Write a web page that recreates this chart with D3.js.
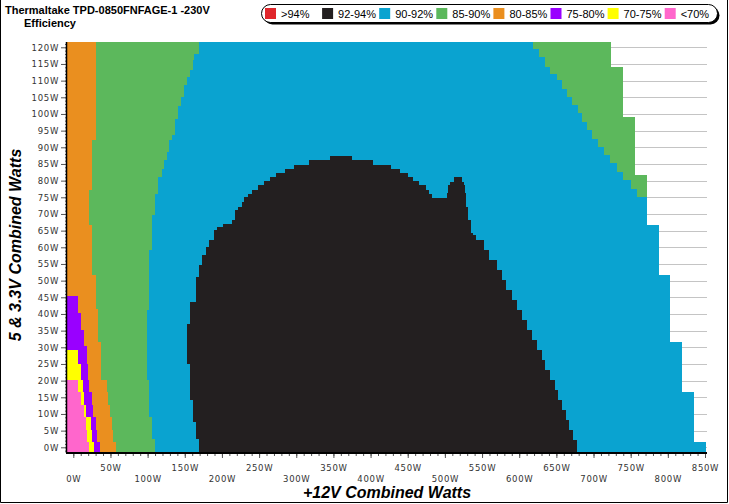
<!DOCTYPE html>
<html><head><meta charset="utf-8">
<script src="https://cdn.jsdelivr.net/npm/d3@7"></script>
<style>body{margin:0;background:#fff}svg{display:block}</style>
</head><body><svg id="c" width="729" height="504"></svg>
<script>
// ---- legend / classes ----
const classes = [">94%", "92-94%", "90-92%", "85-90%", "80-85%", "75-80%", "70-75%", "<70%"];
const classColors = ["#e0262b", "#231f20", "#0aa3d0", "#5cb85c", "#ea8f1f", "#9900ff", "#ffff00", "#ff66cc"];
const yTicks = d3.range(0, 121, 5);
const xTicks = d3.range(0, 851, 50);

// ---- region boundaries: [5&3.3V load from (W), +12V load (W)] step functions ----
const pinkYellow = [[-2, 21.1], [1.7, 18.9], [5.2, 17.1], [9.2, 14.4], [12.7, 9.9], [16.7, 6.8], [20.2, null]];
const yellowPurple = [[-2, 28.3], [1.7, 24.8], [5.2, 23.8], [9.2, 17.1], [12.7, 14.8], [16.7, 13.5], [20.2, 10.4], [25.2, 5.9], [29.2, null]];
const purpleOrange = [[-2, 35.9], [1.7, 32.3], [5.2, 30.5], [9.2, 26.9], [12.7, 24.8], [16.7, 21.5], [20.2, 19.8], [25.2, 18], [30.4, 14.4], [35.2, 10.4], [40.4, 5.9], [45.4, null]];
const orangeGreen = [[-2, 57.5], [1.7, 53.8], [5.2, 51.7], [9.2, 49.4], [12.7, 47.1], [16.7, 44.9], [20.2, 37.3], [31.7, 33.6], [41.7, 30.1], [51.7, 25.6], [66.7, 21.5], [77.2, 25.6], [92.2, 30.1]];
const greenBlueLeft = [[-2, 109.9], [2.7, 106.3], [9.2, 101.9], [20.2, 98.8], [41.2, 101.9], [59.2, 106.3], [69.7, 109.9], [76.2, 114.4], [81.2, 118.9], [83.7, 122], [86.2, 125.7], [88.7, 129.2], [92.2, 133.2], [93.7, 136.9], [98.7, 141.3], [102.4, 145], [105.2, 149], [108.7, 153.4], [111.2, 157], [113.4, 160.7], [116.2, 162.8], [118.2, 169.2]];
const blobLeft = [[-2, 169.2], [2.7, 165.1], [7.7, 161.5], [14.2, 157], [25.2, 153.4], [37.2, 157], [43.7, 165.1], [51.2, 169.2], [54.7, 173.6], [57.7, 178.2], [60.2, 183], [62.2, 189.3], [65.2, 193.8], [66.2, 201.9], [67.2, 214], [68.2, 217.6], [71.2, 222], [72.2, 226.6], [73.7, 230.2], [75.2, 235.5], [76.2, 240], [77.4, 248.1], [78.7, 256.6], [80, 264.7], [81.2, 272.8], [82.4, 284.9], [83.6, 297], [84.8, 317.2], [86.2, 345.4], [87.4, null]];
const blobRight = [[-2, 678.2], [0.2, 677.4], [2.2, 672.8], [5.2, 667.4], [8.2, 663], [11.2, 657.2], [14.2, 652.6], [17.2, 648.2], [20.2, 641.5], [23.2, 634.7], [26.2, 630.3], [29.2, 623.6], [32.2, 616.8], [35.2, 610.1], [38.2, 603.4], [41.2, 596.6], [44.2, 589.9], [47.2, 582.2], [50.2, 576.5], [53.2, 569.7], [56.2, 560], [59.2, 552], [62.2, 542], [63.7, 538.3], [64.5, 535.2], [68.2, 531.5], [72.2, 529], [74.9, 483.1], [76.2, 479.1], [77.4, 474.6], [78.7, 465.6], [80, 457.5], [81.2, 450.8], [82.4, 439.6], [83.6, 427.1], [84.8, 402.9], [86.2, 374.6], [87.4, null]];
const blueGreenRight = [[-2, null], [75.2, 758], [77.7, 750], [80.2, 740], [82.7, 731], [85.3, 722], [87.7, 714], [90.2, 706.5], [92.7, 698], [95.2, 691], [97.7, 685], [100.3, 679.6], [102.7, 671], [105.2, 664], [107.7, 657], [110.2, 650.5], [112.2, 642], [114.2, 635], [117.2, 626], [119.5, 618.2]];
const maxLoad = [[-2, 851.4], [1.7, 834.9], [16.7, 818.7], [31.7, 803], [51.7, 788], [66.7, 771.6], [81.7, 755.5], [99.2, 739], [114.2, 723]];
// isolated 92-94% peak: [from W, to W, +12V from, +12V to]
const peakRows = [[74.9, 76.2, 502.5, 528], [76.2, 78.7, 504.6, 527.1], [78.7, 79.7, 507, 525.8], [79.7, 81.2, 512.3, 522.7]];

const regionClasses = ["<70%", "70-75%", "75-80%", "80-85%", "85-90%", "90-92%", "92-94%", "90-92%", "85-90%"];

const svg = d3.select("#c");
const color = d3.scaleOrdinal().domain(classes).range(classColors);
const x = d3.scaleLinear().domain([0, 850]).range([73.3, 705]);
const y = d3.scaleLinear().domain([0, 120]).range([447.3, 47.3]);
const plotL = 67, plotR = 707, plotT = 42, plotB = 452;

// outer frame
svg.append("path").attr("d", "M0.5,0 V502.5 H727.5 V0").attr("fill", "none").attr("stroke", "#000").attr("stroke-width", 1);

// gridlines
svg.append("g").selectAll("line").data(yTicks).join("line")
  .attr("x1", plotL).attr("x2", plotR).attr("y1", d => Math.round(y(d)) + 0.5).attr("y2", d => Math.round(y(d)) + 0.5)
  .attr("stroke", "#c4c4c4").attr("stroke-width", 1);

// build bands
const boundaries = [pinkYellow, yellowPurple, purpleOrange, orangeGreen, greenBlueLeft, blobLeft, blobRight, blueGreenRight, maxLoad];
const yBot = y.invert(plotB), yTop = y.invert(plotT), xLeft = x.invert(plotL);
const cuts = Array.from(new Set([yBot, yTop, ...boundaries.flatMap(b => b.map(d => d[0]))]))
  .filter(v => v >= yBot && v <= yTop).sort((a, b) => a - b);
function stepAt(b, yv) { let v = null; for (const [y0, xv] of b) if (y0 <= yv) v = xv; return v; }
const cells = [];
for (let i = 0; i < cuts.length - 1; i++) {
  const ya = cuts[i], yb = cuts[i + 1], ym = (ya + yb) / 2;
  const v = boundaries.map(b => stepAt(b, ym));
  const E = [xLeft];
  for (let k = 0; k < 5; k++) { const p = E[E.length - 1]; E.push(v[k] == null ? p : Math.max(v[k], p)); }
  if (v[5] == null) { E.push(E[5], E[5]); } else { E.push(v[5], v[6]); }
  const mx = v[8];
  E.push(v[7] == null ? mx : Math.min(v[7], mx)); E.push(mx);
  for (let k = 0; k < 9; k++) if (E[k + 1] > E[k]) cells.push({ ya, yb, x0: E[k], x1: E[k + 1], cls: regionClasses[k] });
}
peakRows.forEach(([ya, yb, x0, x1]) => cells.push({ ya, yb, x0, x1, cls: "92-94%" }));

svg.append("g").attr("shape-rendering", "crispEdges").selectAll("rect").data(cells).join("rect")
  .attr("x", d => x(d.x0)).attr("width", d => x(d.x1) - x(d.x0) + 0.3)
  .attr("y", d => y(d.yb)).attr("height", d => y(d.ya) - y(d.yb) + 0.3)
  .attr("fill", d => color(d.cls));

// axes
const axisFont = "DejaVu Sans, Verdana, sans-serif";
const yAxisMinor = svg.append("g").attr("transform", `translate(${plotL},0)`)
  .call(d3.axisLeft(y).tickValues(d3.range(-1, 122, 1)).tickSize(2).tickFormat(""));
yAxisMinor.select(".domain").remove();
yAxisMinor.selectAll("line").attr("stroke", "#555");
const yAxis = svg.append("g").attr("transform", `translate(${plotL},0)`)
  .call(d3.axisLeft(y).tickValues(yTicks).tickSize(6).tickPadding(2).tickFormat(d => d + "W"));
yAxis.select(".domain").remove();
yAxis.selectAll("text").attr("font-family", axisFont).attr("font-size", 8.5).attr("letter-spacing", 0.7).attr("fill", "#333");
yAxis.selectAll("line").attr("stroke", "#555");

const xAxisMinor = svg.append("g").attr("transform", `translate(0,${plotB})`)
  .call(d3.axisBottom(x).tickValues(d3.range(0, 851, 10)).tickSize(4).tickFormat(""));
xAxisMinor.select(".domain").remove();
xAxisMinor.selectAll("line").attr("stroke", "#555");
const xAxis = svg.append("g").attr("transform", `translate(0,${plotB})`)
  .call(d3.axisBottom(x).tickValues(xTicks).tickSize(6).tickFormat(d => d + "W"));
xAxis.select(".domain").remove();
xAxis.selectAll("line").attr("stroke", "#555");
xAxis.selectAll("text").attr("font-family", axisFont).attr("font-size", 8.5).attr("letter-spacing", 0.7).attr("fill", "#333")
  .attr("dy", null).attr("y", d => (d % 100 === 0) ? 30 : 19);

// axis lines
svg.append("line").attr("x1", plotL - 0.5).attr("x2", plotL - 0.5).attr("y1", plotT).attr("y2", plotB + 1).attr("stroke", "#000").attr("stroke-width", 1.5);
svg.append("line").attr("x1", plotL - 1).attr("x2", plotR).attr("y1", plotB + 1).attr("y2", plotB + 1).attr("stroke", "#000").attr("stroke-width", 2);

// titles
const titleFont = "Liberation Sans, Arial, sans-serif";
svg.append("text").attr("x", 5).attr("y", 14).attr("font-family", titleFont).attr("font-weight", "bold").attr("font-size", 11).text("Thermaltake TPD-0850FNFAGE-1 -230V");
svg.append("text").attr("x", 24).attr("y", 27).attr("font-family", titleFont).attr("font-weight", "bold").attr("font-size", 11).text("Efficiency");
svg.append("text").attr("transform", "translate(21,245) rotate(-90)").attr("text-anchor", "middle")
  .attr("font-family", titleFont).attr("font-weight", "bold").attr("font-style", "italic").attr("font-size", 16).text("5 & 3.3V Combined Watts");
svg.append("text").attr("x", 387).attr("y", 498).attr("text-anchor", "middle")
  .attr("font-family", titleFont).attr("font-weight", "bold").attr("font-style", "italic").attr("font-size", 16).text("+12V Combined Watts");

// legend
const lg = svg.append("g");
lg.append("rect").attr("x", 263.5).attr("y", 6.5).attr("width", 456).attr("height", 18).attr("rx", 9).attr("fill", "#000");
lg.append("rect").attr("x", 261.5).attr("y", 4.5).attr("width", 456).attr("height", 18).attr("rx", 9).attr("fill", "#fff").attr("stroke", "#000");
const items = lg.selectAll("g.item").data(classes).join("g").attr("class", "item")
  .attr("transform", (d, i) => `translate(${265 + i * 57.1},0)`);
items.append("rect").attr("x", 0).attr("y", 8).attr("width", 11).attr("height", 11).attr("fill", d => color(d));
items.append("text").attr("x", 16).attr("y", 18).attr("font-family", titleFont).attr("font-size", 11).text(d => d);
</script></body></html>
